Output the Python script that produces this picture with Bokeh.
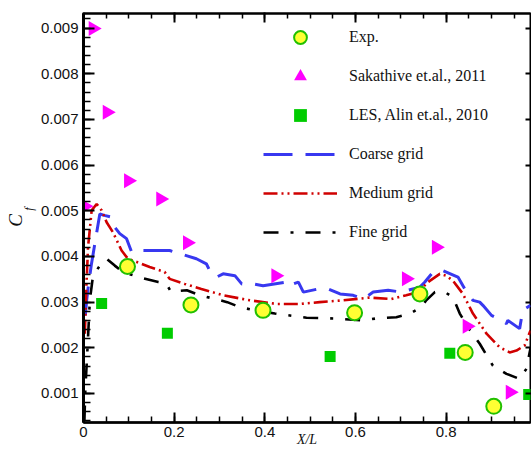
import math
from bokeh.plotting import figure
from bokeh.models import (Range1d, LinearAxis, FixedTicker, PrintfTickFormatter,
                          Legend, LegendItem)
from bokeh.embed import file_html
from bokeh.resources import INLINE

# ---------------- data ----------------
exp_x = [0.097, 0.237, 0.396, 0.598, 0.742, 0.842, 0.905]
exp_y = [0.00378, 0.00294, 0.00282, 0.00277, 0.00318, 0.00190, 0.00072]

sak_x = [0.003, 0.021, 0.052, 0.099, 0.170, 0.229, 0.424, 0.712, 0.778, 0.846, 0.941]
sak_y = [0.00510, 0.00899, 0.00716, 0.00566, 0.00526, 0.00430, 0.00358, 0.00351, 0.00420, 0.00247, 0.00103]

les_x = [0.040, 0.185, 0.544, 0.808, 0.982]
les_y = [0.00297, 0.00232, 0.00181, 0.00188, 0.00098]

coarse_x = [0.004, 0.007, 0.010, 0.017, 0.028, 0.036, 0.046, 0.062, 0.069, 0.080,
            0.095, 0.106, 0.117, 0.161, 0.190, 0.249, 0.271, 0.282, 0.294, 0.308,
            0.334, 0.349, 0.374, 0.396, 0.448, 0.452, 0.474, 0.485, 0.518, 0.540,
            0.566, 0.595, 0.617, 0.639, 0.672, 0.701, 0.742, 0.753, 0.771, 0.793,
            0.826, 0.841, 0.859, 0.874, 0.881, 0.900, 0.922, 0.933, 0.936, 0.962,
            0.969, 0.986]
coarse_y = [0.00271, 0.00304, 0.00330, 0.00380, 0.00446, 0.00493, 0.00490, 0.00486, 0.00464, 0.00450,
            0.00439, 0.00410, 0.00413, 0.00413, 0.00413, 0.00395, 0.00384, 0.00362, 0.00355, 0.00362,
            0.00358, 0.00340, 0.00340, 0.00336, 0.00344, 0.00336, 0.00344, 0.00322, 0.00329, 0.00329,
            0.00318, 0.00315, 0.00307, 0.00322, 0.00326, 0.00322, 0.00333, 0.00344, 0.00366, 0.00369,
            0.00355, 0.00329, 0.00304, 0.00300, 0.00293, 0.00271, 0.00260, 0.00253, 0.00260, 0.00242,
            0.00282, 0.00293]

medium_x = [0.003, 0.006, 0.010, 0.018, 0.029, 0.040, 0.051, 0.065, 0.084, 0.098,
            0.128, 0.146, 0.179, 0.190, 0.223, 0.260, 0.308, 0.367, 0.426, 0.477,
            0.521, 0.573, 0.631, 0.679, 0.712, 0.738, 0.760, 0.786, 0.800, 0.815,
            0.837, 0.859, 0.889, 0.918, 0.940, 0.955, 0.973, 0.986]
medium_y = [0.00231, 0.00326, 0.00420, 0.00501, 0.00515, 0.00501, 0.00475, 0.00453, 0.00413, 0.00395,
            0.00384, 0.00377, 0.00366, 0.00351, 0.00340, 0.00329, 0.00315, 0.00304, 0.00296, 0.00296,
            0.00300, 0.00304, 0.00310, 0.00307, 0.00315, 0.00322, 0.00344, 0.00362, 0.00358, 0.00347,
            0.00318, 0.00275, 0.00231, 0.00201, 0.00190, 0.00194, 0.00205, 0.00238]

fine_x = [0.002, 0.004, 0.008, 0.014, 0.021, 0.036, 0.051, 0.069, 0.087, 0.128,
          0.165, 0.182, 0.193, 0.228, 0.257, 0.286, 0.317, 0.345, 0.374, 0.422,
          0.492, 0.558, 0.617, 0.643, 0.690, 0.720, 0.745, 0.756, 0.775, 0.797,
          0.815, 0.830, 0.848, 0.874, 0.903, 0.933, 0.962, 0.977, 0.986]
fine_y = [0.00041, 0.00107, 0.00183, 0.00304, 0.00358, 0.00380, 0.00395, 0.00380, 0.00366, 0.00353,
          0.00344, 0.00341, 0.00323, 0.00326, 0.00315, 0.00308, 0.00300, 0.00289, 0.00283, 0.00275,
          0.00266, 0.00264, 0.00260, 0.00264, 0.00267, 0.00275, 0.00289, 0.00304, 0.00322, 0.00322,
          0.00311, 0.00275, 0.00245, 0.00209, 0.00161, 0.00143, 0.00132, 0.00154, 0.00199]

x_major = [0.0, 0.2, 0.4, 0.6, 0.8, 1.0]
x_minor = [round(0.05 * i, 2) for i in range(0, 21)]
y_major = [0.001, 0.002, 0.003, 0.004, 0.005, 0.006, 0.007, 0.008, 0.009]
y_minor = [round(0.0002 * i, 4) for i in range(1, 47)]

legend_labels = ["Exp.", "Sakathive et.al., 2011", "LES, Alin et.al., 2010",
                 "Coarse grid", "Medium grid", "Fine grid"]
x_title = "X/L"
y_title_main = "C"
y_title_sub = "f"

# ---------------- figure ----------------
p = figure(width=531, height=452, output_backend="svg", toolbar_location=None,
           x_range=Range1d(0, 0.986), y_range=Range1d(0.000365, 0.00932),
           x_axis_type=None, y_axis_type=None,
           min_border_left=83, min_border_top=13, min_border_bottom=30, min_border_right=0)
p.outline_line_color = "black"
p.outline_line_width = 2

sans = "Liberation Sans"
serif = "Liberation Serif"


def style_axis(ax, tick_major=10, tick_minor=6, line=True, lw=2.5, labels=True):
    ax.axis_line_width = lw
    ax.axis_line_color = "black" if line else None
    ax.major_tick_in = tick_major
    ax.major_tick_out = 0
    ax.minor_tick_in = tick_minor
    ax.minor_tick_out = 0
    ax.major_tick_line_width = 2
    ax.minor_tick_line_width = 1.5
    ax.major_tick_line_color = "black"
    ax.minor_tick_line_color = "black"
    ax.major_label_text_font = sans
    if labels:
        ax.major_label_text_font_size = "15px"
        ax.major_label_text_color = "#111111"
    else:
        ax.major_tick_out = 1
        ax.major_label_text_font_size = "2px"
        ax.major_label_text_alpha = 0
        ax.major_label_standoff = 2


# bottom axis with labels and title
xb = LinearAxis(ticker=FixedTicker(ticks=x_major, minor_ticks=x_minor),
                formatter=PrintfTickFormatter(format="%.1f"))
style_axis(xb)
xb.major_label_overrides = {0: "0"}
xb.major_label_standoff = 4
xb.axis_label = x_title
xb.axis_label_text_font = serif
xb.axis_label_text_font_style = "italic"
xb.axis_label_text_font_size = "14px"
xb.axis_label_text_color = "#111111"
xb.axis_label_standoff = -8
p.add_layout(xb, "below")

# left axis with labels
yl = LinearAxis(ticker=FixedTicker(ticks=y_major, minor_ticks=y_minor),
                formatter=PrintfTickFormatter(format="%.3f"))
style_axis(yl, lw=3, tick_major=11, tick_minor=7)
yl.major_label_standoff = 5
p.add_layout(yl, "left")

# top axis: ticks only
xt = LinearAxis(ticker=FixedTicker(ticks=x_major, minor_ticks=x_minor),
                formatter=PrintfTickFormatter(format="%.1f"))
style_axis(xt, tick_major=9, tick_minor=5, lw=2, labels=False)
p.add_layout(xt, "above")


def title_axis(text, size, standoff):
    ax = LinearAxis(ticker=FixedTicker(ticks=[]))
    ax.axis_line_color = None
    ax.major_tick_line_color = None
    ax.minor_tick_line_color = None
    ax.major_label_standoff = 0
    ax.axis_label = text
    ax.axis_label_text_font = serif
    ax.axis_label_text_font_style = "italic"
    ax.axis_label_text_font_size = size
    ax.axis_label_text_color = "#111111"
    ax.axis_label_standoff = standoff
    return ax


# subscript and main letter of the y title (stacked outward)
p.add_layout(title_axis("\u00a0" * 6 + y_title_sub, "12px", 2), "left")
p.add_layout(title_axis(y_title_main + "\u00a0", "19px", -7), "left")

# right axis: short tick stubs only
yr = LinearAxis(ticker=FixedTicker(ticks=y_major, minor_ticks=[]),
                formatter=PrintfTickFormatter(format="%.3f"))
style_axis(yr, tick_major=5, tick_minor=0, line=False, labels=False)
yr.major_label_standoff = 1
p.add_layout(yr, "right")

# ---------------- lines ----------------
r_coarse = p.line(coarse_x, coarse_y, line_color="#3838F0", line_width=3, line_dash="29 13")
r_medium = p.line(medium_x, medium_y, line_color="#D00000", line_width=2.6, line_dash="14 4 2 4 2 4")
r_fine = p.line(fine_x, fine_y, line_color="black", line_width=2.6, line_dash="15 12 3 12")

# ---------------- markers ----------------
r_les = p.scatter(les_x, les_y, marker="square", size=11, fill_color="#00CC00", line_color=None)
r_sak = p.scatter(sak_x, sak_y, marker="triangle", angle=-math.pi / 2, size=15,
                  fill_color="#FF00FF", line_color=None)
r_exp = p.scatter(exp_x, exp_y, marker="circle", size=15, fill_color="#FFFF33",
                  line_color="#22C000", line_width=2)

legend = Legend(items=[
    LegendItem(label=legend_labels[0], renderers=[r_exp]),
    LegendItem(label=legend_labels[1], renderers=[r_sak]),
    LegendItem(label=legend_labels[2], renderers=[r_les]),
    LegendItem(label=legend_labels[3], renderers=[r_coarse]),
    LegendItem(label=legend_labels[4], renderers=[r_medium]),
    LegendItem(label=legend_labels[5], renderers=[r_fine]),
], location=(180, 174))
legend.border_line_color = None
legend.background_fill_alpha = 0
legend.padding = 0
legend.margin = 0
legend.glyph_width = 74
legend.glyph_height = 32
legend.label_height = 32
legend.spacing = 7
legend.label_standoff = 12
legend.label_text_font = serif
legend.label_text_font_size = "16px"
legend.label_text_color = "#111111"
p.add_layout(legend, "center")

open("out.html", "w").write(file_html(p, INLINE))
